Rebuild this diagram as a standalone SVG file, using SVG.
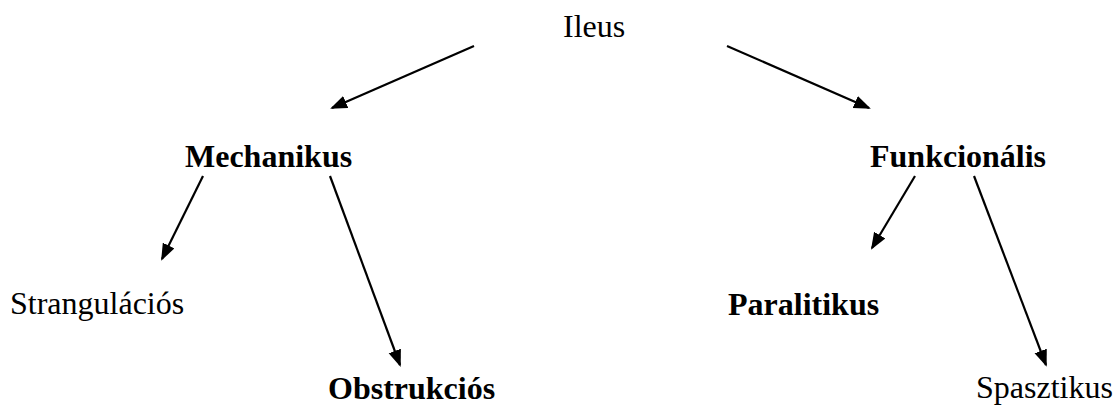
<svg xmlns="http://www.w3.org/2000/svg" width="1114" height="415" viewBox="0 0 1114 415">
<style>
text{font-family:"Liberation Serif","Times New Roman",serif;font-size:32px;fill:#000}
.b{font-weight:bold}
.c line{stroke:#000;stroke-width:2.2;marker-end:url(#ah)}
</style>
<defs>
<marker id="ah" markerUnits="userSpaceOnUse" markerWidth="18" markerHeight="14" refX="15" refY="6.5" orient="auto" viewBox="0 0 18 14">
<path d="M0,0 L17,6.5 L0,13 z" fill="#000"/>
</marker>
</defs>
<rect width="1114" height="415" fill="#fff"/>
<g id="ileus"><text x="563" y="37">Ileus</text></g>
<g id="mechanikus"><text class="b" x="185" y="167">Mechanikus</text></g>
<g id="funkcionalis"><text class="b" x="870" y="167">Funkcionális</text></g>
<g id="strangulacios"><text x="10" y="314">Strangulációs</text></g>
<g id="obstrukcios"><text class="b" x="328" y="399">Obstrukciós</text></g>
<g id="paralitikus"><text class="b" x="728" y="315">Paralitikus</text></g>
<g id="spasztikus"><text x="976" y="398">Spasztikus</text></g>
<g class="c" id="connectors">
<line x1="474" y1="46" x2="332" y2="108"/>
<line x1="727" y1="46" x2="869" y2="108"/>
<line x1="203" y1="176" x2="162" y2="259"/>
<line x1="330" y1="176" x2="400" y2="365"/>
<line x1="915" y1="176" x2="872" y2="248"/>
<line x1="974" y1="176" x2="1046" y2="365"/>
</g>
</svg>
